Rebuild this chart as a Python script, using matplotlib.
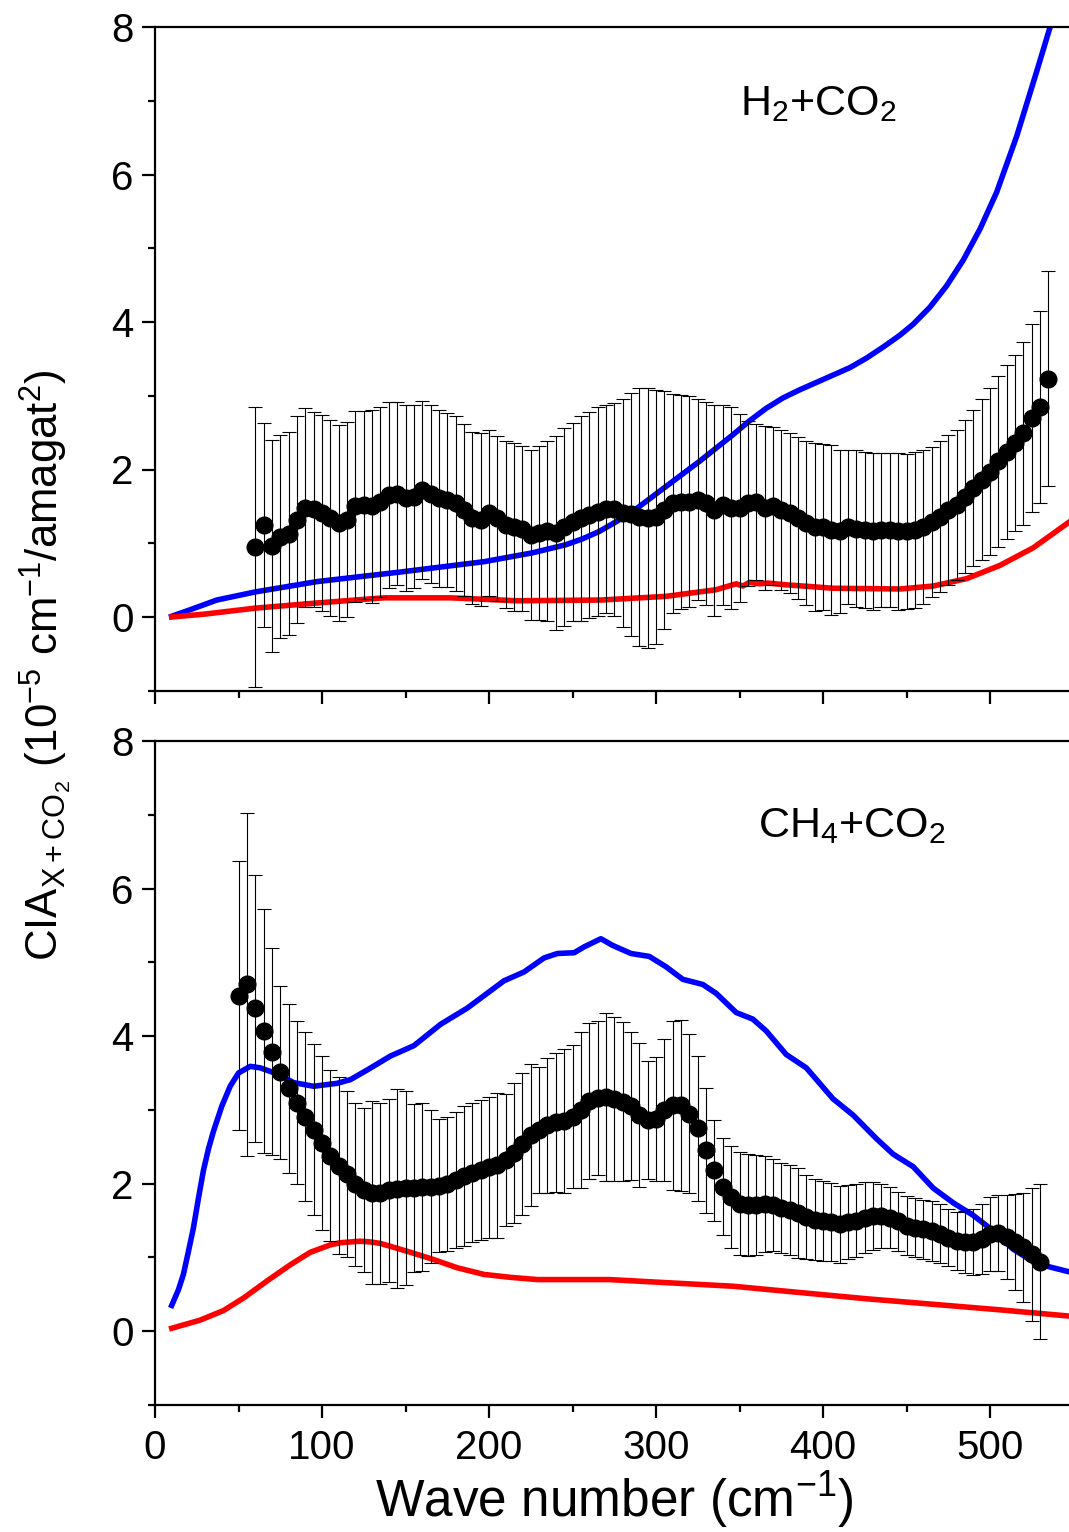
import matplotlib
matplotlib.use("Agg")
from matplotlib import pyplot as plt
from matplotlib.ticker import MultipleLocator
import numpy as np

plt.rcParams['font.family'] = ['Liberation Sans', 'DejaVu Sans']
plt.rcParams['mathtext.fontset'] = 'custom'
plt.rcParams['mathtext.rm'] = 'Liberation Sans'
plt.rcParams['mathtext.it'] = 'Liberation Sans:italic'
plt.rcParams['mathtext.bf'] = 'Liberation Sans:bold'

# ---- H2 + CO2 (top panel) ----
h2_x = [60, 65, 70, 75, 80, 85, 90, 95, 100, 105, 110, 115, 120, 125, 130, 135,
        140, 145, 150, 155, 160, 165, 170, 175, 180, 185, 190, 195, 200, 205, 210,
        215, 220, 225, 230, 235, 240, 245, 250, 255, 260, 265, 270, 275, 280, 285,
        290, 295, 300, 305, 310, 315, 320, 325, 330, 335, 340, 345, 350, 355, 360,
        365, 370, 375, 380, 385, 390, 395, 400, 405, 410, 415, 420, 425, 430, 435,
        440, 445, 450, 455, 460, 465, 470, 475, 480, 485, 490, 495, 500, 505, 510,
        515, 520, 525, 530, 535]
h2_exp = [0.95, 1.25, 0.96, 1.09, 1.13, 1.32, 1.48, 1.46, 1.41, 1.34, 1.27, 1.32,
          1.50, 1.52, 1.50, 1.56, 1.65, 1.67, 1.61, 1.63, 1.72, 1.67, 1.61, 1.59,
          1.54, 1.45, 1.34, 1.32, 1.41, 1.34, 1.25, 1.22, 1.20, 1.11, 1.14, 1.16,
          1.14, 1.22, 1.29, 1.34, 1.38, 1.43, 1.47, 1.46, 1.41, 1.39, 1.36, 1.34,
          1.36, 1.45, 1.54, 1.56, 1.56, 1.59, 1.54, 1.45, 1.52, 1.48, 1.48, 1.54,
          1.56, 1.48, 1.50, 1.45, 1.41, 1.34, 1.27, 1.22, 1.22, 1.18, 1.16, 1.22,
          1.20, 1.18, 1.16, 1.18, 1.18, 1.16, 1.16, 1.18, 1.22, 1.29, 1.36, 1.45,
          1.52, 1.63, 1.75, 1.86, 1.97, 2.11, 2.24, 2.36, 2.49, 2.70, 2.85, 3.23]
h2_err = [1.90, 1.38, 1.44, 1.38, 1.38, 1.40, 1.35, 1.32, 1.33, 1.33, 1.33, 1.32,
          1.30, 1.28, 1.31, 1.29, 1.26, 1.24, 1.26, 1.24, 1.21, 1.21, 1.20, 1.18,
          1.19, 1.17, 1.17, 1.17, 1.13, 1.12, 1.13, 1.14, 1.12, 1.15, 1.18, 1.22,
          1.31, 1.34, 1.34, 1.39, 1.40, 1.42, 1.41, 1.44, 1.55, 1.65, 1.75, 1.76,
          1.72, 1.61, 1.49, 1.45, 1.43, 1.36, 1.38, 1.43, 1.36, 1.37, 1.27, 1.12,
          1.06, 1.11, 1.07, 1.09, 1.09, 1.10, 1.11, 1.14, 1.13, 1.15, 1.11, 1.05,
          1.06, 1.06, 1.06, 1.04, 1.04, 1.06, 1.05, 1.06, 1.05, 1.02, 1.02, 1.02,
          1.02, 1.04, 1.06, 1.09, 1.13, 1.16, 1.18, 1.19, 1.24, 1.27, 1.30, 1.46]

h2_blue_x = [10, 20, 37, 60, 97, 147, 197, 226, 246, 256, 266, 276, 286, 296, 306,
             316, 326, 336, 346, 356, 366, 376, 386, 396, 406, 416, 426, 436, 446,
             454, 464, 474, 484, 494, 504, 516, 528, 536, 540]
h2_blue_y = [0.01, 0.09, 0.23, 0.34, 0.48, 0.61, 0.75, 0.87, 0.98, 1.06, 1.16, 1.29,
             1.43, 1.60, 1.77, 1.94, 2.11, 2.29, 2.47, 2.66, 2.83, 2.97, 3.08, 3.18,
             3.28, 3.38, 3.51, 3.66, 3.82, 3.97, 4.20, 4.49, 4.84, 5.26, 5.76, 6.52,
             7.40, 8.0, 8.3]
h2_red_x = [10, 30, 60, 97, 137, 177, 217, 267, 306, 336, 348, 352, 356, 362, 367,
            376, 406, 446, 466, 486, 506, 526, 550]
h2_red_y = [0.0, 0.04, 0.12, 0.19, 0.26, 0.26, 0.22, 0.23, 0.28, 0.37, 0.45, 0.42,
            0.47, 0.45, 0.46, 0.44, 0.39, 0.38, 0.42, 0.52, 0.70, 0.94, 1.33]

# ---- CH4 + CO2 (bottom panel) ----
ch4_x = [50, 55, 60, 65, 70, 75, 80, 85, 90, 95, 100, 105, 110, 115, 120, 125, 130,
         135, 140, 145, 150, 155, 160, 165, 170, 175, 180, 185, 190, 195, 200, 205,
         210, 215, 220, 225, 230, 235, 240, 245, 250, 255, 260, 265, 270, 275, 280,
         285, 290, 295, 300, 305, 310, 315, 320, 325, 330, 335, 340, 345, 350, 355,
         360, 365, 370, 375, 380, 385, 390, 395, 400, 405, 410, 415, 420, 425, 430,
         435, 440, 445, 450, 455, 460, 465, 470, 475, 480, 485, 490, 495, 500, 505,
         510, 515, 520, 525, 530]
ch4_exp = [4.55, 4.70, 4.38, 4.07, 3.79, 3.51, 3.29, 3.10, 2.91, 2.73, 2.55, 2.38,
           2.24, 2.13, 1.99, 1.91, 1.88, 1.87, 1.91, 1.93, 1.94, 1.94, 1.96, 1.96,
           1.97, 2.00, 2.05, 2.10, 2.15, 2.18, 2.22, 2.25, 2.32, 2.42, 2.54, 2.66,
           2.73, 2.79, 2.83, 2.85, 2.91, 3.00, 3.12, 3.16, 3.17, 3.15, 3.11, 3.05,
           2.93, 2.86, 2.88, 3.00, 3.06, 3.06, 2.95, 2.75, 2.45, 2.18, 1.96, 1.82,
           1.73, 1.71, 1.71, 1.72, 1.71, 1.67, 1.64, 1.60, 1.55, 1.51, 1.49, 1.48,
           1.45, 1.48, 1.50, 1.54, 1.56, 1.56, 1.54, 1.49, 1.43, 1.40, 1.38, 1.36,
           1.32, 1.27, 1.22, 1.21, 1.21, 1.25, 1.32, 1.33, 1.28, 1.21, 1.14, 1.04,
           0.94]
ch4_err = [1.82, 2.32, 1.81, 1.65, 1.40, 1.17, 1.14, 1.11, 1.15, 1.16, 1.18, 1.16,
           1.20, 1.12, 1.10, 1.11, 1.24, 1.23, 1.24, 1.35, 1.32, 1.14, 1.14, 1.04,
           0.90, 0.91, 0.92, 0.95, 0.94, 0.95, 0.95, 0.98, 0.90, 0.95, 0.96, 0.96,
           0.85, 0.91, 0.94, 0.97, 0.97, 1.06, 1.06, 1.04, 1.14, 1.11, 1.08, 1.00,
           0.97, 0.80, 0.84, 0.96, 1.15, 1.16, 1.08, 0.98, 0.85, 0.68, 0.66, 0.69,
           0.70, 0.69, 0.68, 0.65, 0.62, 0.61, 0.61, 0.61, 0.57, 0.55, 0.54, 0.53,
           0.52, 0.50, 0.49, 0.48, 0.46, 0.43, 0.41, 0.40, 0.40, 0.40, 0.40, 0.41,
           0.40, 0.39, 0.39, 0.42, 0.45, 0.47, 0.50, 0.52, 0.57, 0.65, 0.74, 0.90,
           1.05]

ch4_blue_x = [10, 14, 17, 20, 23, 26, 29, 32, 35, 40, 45, 50, 57, 63, 73, 83, 95,
              109, 117, 127, 141, 155, 171, 187, 209, 221, 233, 241, 251, 257, 267,
              274, 285, 296, 306, 316, 328, 336, 348, 358, 366, 378, 390, 406, 418,
              432, 442, 454, 466, 478, 490, 502, 514, 526, 536, 550]
ch4_blue_y = [0.35, 0.56, 0.77, 1.08, 1.40, 1.80, 2.18, 2.47, 2.71, 3.05, 3.32, 3.50,
              3.59, 3.57, 3.49, 3.37, 3.32, 3.36, 3.41, 3.54, 3.73, 3.87, 4.16, 4.38,
              4.75, 4.87, 5.06, 5.12, 5.13, 5.21, 5.32, 5.23, 5.12, 5.08, 4.94, 4.77,
              4.70, 4.58, 4.32, 4.23, 4.07, 3.75, 3.57, 3.15, 2.93, 2.61, 2.40, 2.23,
              1.94, 1.74, 1.57, 1.36, 1.11, 0.94, 0.87, 0.79]
ch4_red_x = [10, 27, 41, 53, 67, 81, 93, 105, 111, 117, 123, 129, 135, 141, 153, 167,
             181, 197, 213, 229, 272, 346, 426, 506, 550]
ch4_red_y = [0.04, 0.15, 0.28, 0.45, 0.68, 0.90, 1.07, 1.17, 1.20, 1.21, 1.22, 1.21,
             1.19, 1.15, 1.07, 0.97, 0.86, 0.77, 0.73, 0.70, 0.70, 0.61, 0.44, 0.29,
             0.20]

W, H = 1069, 1532
fig = plt.figure(figsize=(W / 100, H / 100), dpi=100)
left = 155 / W
width = 918.5 / W
ax1 = fig.add_axes([left, 1 - 690.75 / H, width, 663.75 / H])
ax2 = fig.add_axes([left, 1 - 1405 / H, width, 664 / H])

panels = [
    (ax1, h2_x, h2_exp, h2_err, h2_blue_x, h2_blue_y, h2_red_x, h2_red_y,
     r'H$_2$+CO$_2$', 397, 6.95),
    (ax2, ch4_x, ch4_exp, ch4_err, ch4_blue_x, ch4_blue_y, ch4_red_x, ch4_red_y,
     r'CH$_4$+CO$_2$', 417, 6.85),
]

for ax, x, y, e, bx, by, rx, ry, label, lx, ly in panels:
    ax.plot(bx, by, color='#0000ff', lw=4, zorder=2, solid_joinstyle='round')
    ax.plot(rx, ry, color='#ff0000', lw=4, zorder=2, solid_joinstyle='round')
    ax.errorbar(x, y, yerr=e, fmt='none', ecolor='black', elinewidth=0.8,
                capsize=4.7, capthick=0.8, zorder=3)
    ax.plot(x, y, 'o', color='black', ms=12, zorder=4)
    ax.text(lx, ly, label, fontsize=31, ha='center', va='center')

    ax.set_xlim(0, 550)
    ax.set_ylim(-1, 8)
    ax.xaxis.set_major_locator(MultipleLocator(100))
    ax.xaxis.set_minor_locator(MultipleLocator(50))
    ax.yaxis.set_major_locator(MultipleLocator(2))
    ax.yaxis.set_minor_locator(MultipleLocator(1))
    ax.tick_params(which='both', direction='out', width=1.6, top=False, right=False)
    ax.tick_params(which='major', length=9.5)
    ax.tick_params(which='minor', length=5)
    ax.tick_params(axis='y', labelsize=29, pad=6)
    ax.tick_params(axis='x', labelsize=29, pad=8)
    for s in ax.spines.values():
        s.set_linewidth(1.6)
    ax.spines['right'].set_visible(False)

ax1.tick_params(axis='x', labelbottom=False)

ax2.set_xlabel(r'Wave number (cm$^{-1}$)', fontsize=37, labelpad=2)
fig.text(45 / W, 1 - 665 / H,
         r'CIA$_{\mathrm{X+CO_2}}$ (10$^{-5}$ cm$^{-1}$/amagat$^2$)',
         fontsize=31.5, rotation=90, ha='center', va='center')

fig.savefig('out.png', dpi=100)
